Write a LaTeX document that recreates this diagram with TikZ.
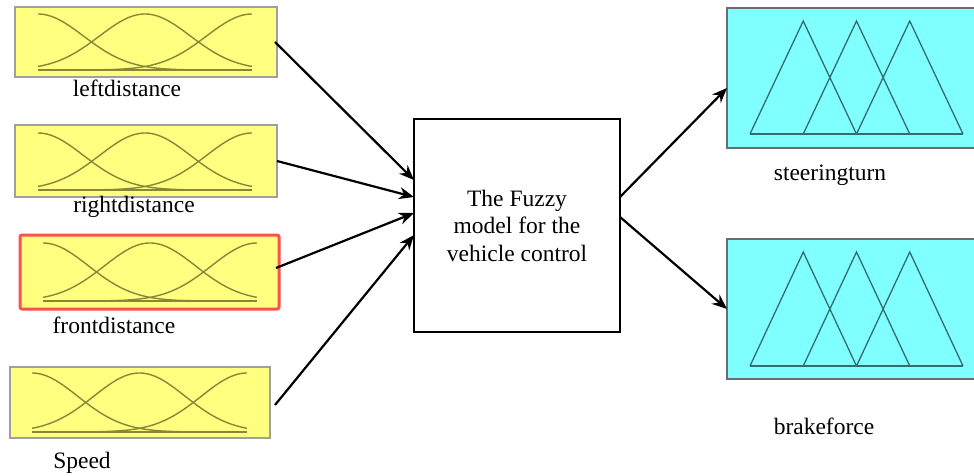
\documentclass[tikz,border=0pt]{standalone}
\usepackage{fontspec}
\setmainfont{Liberation Serif}
\usetikzlibrary{arrows.meta}
\definecolor{yfill}{RGB}{255,255,128}
\definecolor{cfill}{RGB}{128,255,255}
\definecolor{gcol}{RGB}{135,135,55}
\definecolor{tcol}{RGB}{50,110,110}
\definecolor{redb}{RGB}{255,80,80}
\tikzset{
  ybox/.style={rectangle, fill=yfill, draw=gray!75, line width=1.6pt, inner sep=0pt, outer sep=0pt},
  rbox/.style={ybox, draw=redb, line width=3pt, rounded corners=2pt},
  cbox/.style={rectangle, fill=cfill, draw=gray!85!black, line width=1.8pt, inner sep=0pt, outer sep=0pt},
  fbox/.style={rectangle, draw=black, line width=1.3pt, fill=white, inner sep=0pt, outer sep=0pt, align=center, font=\fontsize{23.5}{27.5}\selectfont},
  lbl/.style={anchor=base, inner sep=0pt, font=\fontsize{23.5}{27.5}\selectfont},
  gcurve/.style={draw=gcol, line width=1.4pt},
  tri/.style={draw=tcol, line width=1.3pt, line join=miter},
  arr/.style={draw=black, line width=2.2pt, -{Stealth[length=15pt,width=12pt]}}
}
\newcommand\gcurves[4]{%
  \foreach \cc in {0,0.5,1}{
    \draw[gcurve] plot[domain=0:1,samples=80,smooth,variable=\t] ({#1+\t*(#3-#1)}, {#4-(#4-#2)*exp(-0.5*((\t-\cc)/0.2124)^2)});
  }
  \draw[gcurve] (#1,#4) -- (#3,#4);
}
\newcommand\tris[4]{%
  \pgfmathsetmacro\dd{(#3-#1)/4}
  \draw[tri] (#1,#4) -- ({#1+\dd},#2) -- ({#1+2*\dd},#4);
  \draw[tri] ({#1+\dd},#4) -- ({#1+2*\dd},#2) -- ({#1+3*\dd},#4);
  \draw[tri] ({#1+2*\dd},#4) -- ({#1+3*\dd},#2) -- (#3,#4);
  \draw[tri] (#1,#4) -- (#3,#4);
}
\begin{document}
\begin{tikzpicture}[x=1pt,y=-1pt]
\useasboundingbox (0,0) rectangle (974,476);
% input boxes
\node[ybox, minimum width=262pt, minimum height=70pt] (ld) at (146,42) {};
\gcurves{38}{14}{252}{70}
\node[ybox, minimum width=262pt, minimum height=72pt] (rd) at (146,161) {};
\gcurves{38}{133}{252}{190}
\node[rbox, minimum width=259pt, minimum height=74pt] (fd) at (149.5,272) {};
\gcurves{43}{243}{257}{301}
\node[ybox, minimum width=260pt, minimum height=71pt] (sp) at (140,402.5) {};
\gcurves{32}{373}{247}{432}
% labels
\node[lbl] (lldl) at (127,97) {leftdistance};
\node[lbl] (lrdl) at (134,212) {rightdistance};
\node[lbl] (lfdl) at (114,333) {frontdistance};
\node[lbl] (lspl) at (82,468) {Speed};
% fuzzy model
\node[fbox, minimum width=206pt, minimum height=213pt] (fz) at (517,225.5) {The Fuzzy\\model for the\\vehicle control};
% output boxes
\node[cbox, minimum width=258pt, minimum height=140pt] (st) at (856,78) {};
\tris{750}{21}{963}{134}
\node[cbox, minimum width=258pt, minimum height=140pt] (bf) at (856,309) {};
\tris{750}{252}{963}{366}
\node[lbl] (lstl) at (830,180) {steeringturn};
\node[lbl] (lbfl) at (824,434) {brakeforce};
% arrows
\draw[arr] ([xshift=-2pt]ld.east) -- ([yshift=45.5pt]fz.west);
\draw[arr] (rd.east) -- ([yshift=28.5pt]fz.west);
\draw[arr] ([xshift=-3pt,yshift=4pt]fd.east) -- ([yshift=12.5pt]fz.west);
\draw[arr] ([xshift=5pt,yshift=-2.5pt]sp.east) -- ([yshift=-9.5pt]fz.west);
\draw[arr] ([yshift=28.5pt]fz.east) -- ([yshift=-10pt]st.west);
\draw[arr] ([yshift=8.5pt]fz.east) -- (bf.west);
\end{tikzpicture}
\end{document}
